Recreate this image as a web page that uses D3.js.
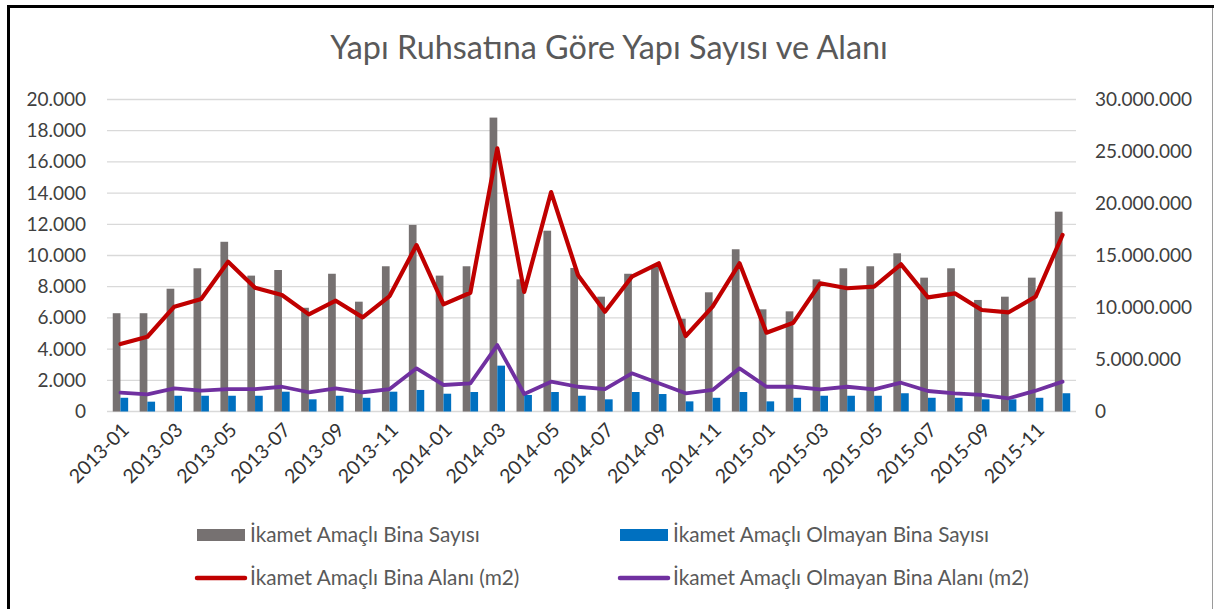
<!DOCTYPE html>
<html><head><meta charset="utf-8">
<script src="https://cdn.jsdelivr.net/npm/d3@7"></script>
<style>
body{margin:0;background:#fff}
svg{display:block}
text{font-family:Lato,"Open Sans",sans-serif}
</style>
</head><body>
<svg id="c" width="1214" height="609"></svg>
<script>
const categories = ["2013-01","2013-02","2013-03","2013-04","2013-05","2013-06","2013-07","2013-08","2013-09","2013-10","2013-11","2013-12",
"2014-01","2014-02","2014-03","2014-04","2014-05","2014-06","2014-07","2014-08","2014-09","2014-10","2014-11","2014-12",
"2015-01","2015-02","2015-03","2015-04","2015-05","2015-06","2015-07","2015-08","2015-09","2015-10","2015-11","2015-12"];
const xTickLabels = ["2013-01","2013-03","2013-05","2013-07","2013-09","2013-11","2014-01","2014-03","2014-05","2014-07","2014-09","2014-11","2015-01","2015-03","2015-05","2015-07","2015-09","2015-11"];
// İkamet Amaçlı Bina Sayısı (left axis)
const residentialCount = [6300,6300,7870,9180,10880,8710,9070,6650,8830,7040,9310,11960,
8710,9310,18840,8470,11590,9200,7360,8830,9300,5950,7640,10400,
6550,6420,8470,9180,9310,10140,8580,9180,7150,7360,8580,12810];
// İkamet Amaçlı Olmayan Bina Sayısı (left axis)
const nonResidentialCount = [880,630,1010,1010,1010,1010,1270,780,1010,880,1270,1380,
1140,1250,2940,1060,1250,1010,780,1250,1120,650,880,1250,
650,880,1010,1010,1010,1170,880,880,780,780,880,1170];
// İkamet Amaçlı Bina Alanı (m2) (right axis)
const residentialArea = [6490000,7190000,10080000,10820000,14400000,11900000,11200000,9340000,10650000,9050000,11100000,16000000,
10300000,11420000,25300000,11500000,21100000,13100000,9600000,12960000,14250000,7260000,10080000,14250000,
7580000,8540000,12330000,11850000,12000000,14150000,10980000,11360000,9760000,9540000,11040000,16970000];
// İkamet Amaçlı Olmayan Bina Alanı (m2) (right axis)
const nonResidentialArea = [1810000,1650000,2230000,2000000,2160000,2160000,2380000,1850000,2230000,1850000,2160000,4150000,
2550000,2710000,6390000,1680000,2870000,2380000,2160000,3670000,2710000,1750000,2070000,4150000,
2380000,2380000,2130000,2380000,2130000,2770000,1970000,1750000,1590000,1270000,2000000,2870000];
const leftTicks = [0,2000,4000,6000,8000,10000,12000,14000,16000,18000,20000];
const rightTicks = [0,5000000,10000000,15000000,20000000,25000000,30000000];
const seriesNames = ["İkamet Amaçlı Bina Sayısı","İkamet Amaçlı Olmayan Bina Sayısı","İkamet Amaçlı Bina Alanı (m2)","İkamet Amaçlı Olmayan Bina Alanı (m2)"];
const titleText = "Yapı Ruhsatına Göre Yapı Sayısı ve Alanı";

const colors = {grey:"#767171", blue:"#0070C0", red:"#C00000", purple:"#7030A0"};
const svg = d3.select("#c");
const W = 1214, H = 609;
const plot = {left:107, right:1076, top:99.5, bottom:411.5};

const loc = d3.formatLocale({decimal:",", thousands:".", grouping:[3], currency:["",""]});
const fmt = loc.format(",.0f");

function fitFont(sel, base, target){
  sel.style("font-size", base+"px");
  const len = sel.node().getComputedTextLength();
  const fs = base*target/len;
  sel.style("font-size", fs+"px");
  return fs;
}

// frame
svg.append("line").attr("x1",8.5).attr("x2",8.5).attr("y1",5).attr("y2",H).attr("stroke","#000").attr("stroke-width",3);
svg.append("line").attr("x1",7).attr("x2",1214).attr("y1",6.5).attr("y2",6.5).attr("stroke","#000").attr("stroke-width",3);
svg.append("line").attr("x1",1212.5).attr("x2",1212.5).attr("y1",8).attr("y2",H).attr("stroke","#9a9a9a").attr("stroke-width",1);

// title
const t = svg.append("text").attr("x",609).attr("y",59).attr("text-anchor","middle").attr("fill","#595959").text(titleText);
fitFont(t, 26, 558);

const x = d3.scaleBand().domain(categories).range([plot.left, plot.right]).padding(0);
const bw = x.bandwidth();
const sub = d3.scaleBand().domain(["res","non"]).range([bw/2-7.7, bw/2+7.7]).padding(0);
const yL = d3.scaleLinear().domain([0,20000]).range([plot.bottom, plot.top]);
const yR = d3.scaleLinear().domain([0,30000000]).range([plot.bottom, plot.top]);

// gridlines
svg.append("g").selectAll("line").data(leftTicks).join("line")
  .attr("x1",plot.left).attr("x2",plot.right)
  .attr("y1",d=>yL(d)).attr("y2",d=>yL(d))
  .attr("stroke","#D9D9D9").attr("stroke-width",1.3);

// axes
const axL = svg.append("g").attr("transform",`translate(${plot.left},0)`)
  .call(d3.axisLeft(yL).tickValues(leftTicks).tickFormat(fmt).tickSize(0).tickPadding(21));
axL.select(".domain").remove();
axL.selectAll("text").attr("fill","#404040").style("font-size","19px").style("font-family","Lato");

const axR = svg.append("g").attr("transform",`translate(${plot.right},0)`)
  .call(d3.axisRight(yR).tickValues(rightTicks).tickFormat(fmt).tickSize(0).tickPadding(19));
axR.select(".domain").remove();
axR.selectAll("text").attr("fill","#404040").style("font-size","19px").style("font-family","Lato");

const axB = svg.append("g").attr("transform",`translate(0,${plot.bottom})`)
  .call(d3.axisBottom(x).tickValues(xTickLabels).tickSize(0));
axB.select(".domain").remove();
axB.selectAll(".tick").attr("transform", d => `translate(${x(d)+bw/2},0)`);
axB.selectAll("text").attr("fill","#333333").style("font-size","19.5px").style("font-family","Lato")
  .attr("x",0).attr("y",0).attr("dy","0.35em").attr("text-anchor","end")
  .attr("transform","translate(5,15) rotate(-45)");

// bars
const bars = svg.append("g");
bars.selectAll("rect.res").data(categories).join("rect").attr("class","res")
  .attr("x",(d)=>x(d)+sub("res")).attr("width",sub.bandwidth())
  .attr("y",(d,i)=>yL(residentialCount[i])).attr("height",(d,i)=>yL(0)-yL(residentialCount[i]))
  .attr("fill",colors.grey);
bars.selectAll("rect.non").data(categories).join("rect").attr("class","non")
  .attr("x",(d)=>x(d)+sub("non")).attr("width",sub.bandwidth())
  .attr("y",(d,i)=>yL(nonResidentialCount[i])).attr("height",(d,i)=>yL(0)-yL(nonResidentialCount[i]))
  .attr("fill",colors.blue);

// lines
const line = d3.line().x((d,i)=>x(categories[i])+bw/2).y(d=>yR(d));
svg.append("path").datum(residentialArea).attr("d",line).attr("fill","none")
  .attr("stroke",colors.red).attr("stroke-width",4.2).attr("stroke-linejoin","round").attr("stroke-linecap","round");
svg.append("path").datum(nonResidentialArea).attr("d",line).attr("fill","none")
  .attr("stroke",colors.purple).attr("stroke-width",3.8).attr("stroke-linejoin","round").attr("stroke-linecap","round");

// legend
const legendPos = [{x:197,y:535,type:"rect",c:colors.grey},{x:620,y:535,type:"rect",c:colors.blue},
                   {x:197,y:578,type:"line",c:colors.red},{x:620,y:578,type:"line",c:colors.purple}];
const lg = svg.append("g");
const items = lg.selectAll("g").data(seriesNames).join("g").attr("transform",(d,i)=>`translate(${legendPos[i].x},${legendPos[i].y})`);
items.each(function(d,i){
  const g = d3.select(this), p = legendPos[i];
  if(p.type==="rect") g.append("rect").attr("x",0).attr("y",-6).attr("width",48).attr("height",12).attr("fill",p.c);
  else g.append("line").attr("x1",0).attr("x2",48).attr("y1",0).attr("y2",0).attr("stroke",p.c).attr("stroke-width",4.5).attr("stroke-linecap","round");
});
const ltexts = items.append("text").attr("x",53).attr("y",0).attr("dy","0.35em").attr("fill","#595959").text(d=>d);
const fs = fitFont(d3.select(ltexts.nodes()[3]), 16, 356);
ltexts.style("font-size", fs+"px");
</script>
</body></html>
